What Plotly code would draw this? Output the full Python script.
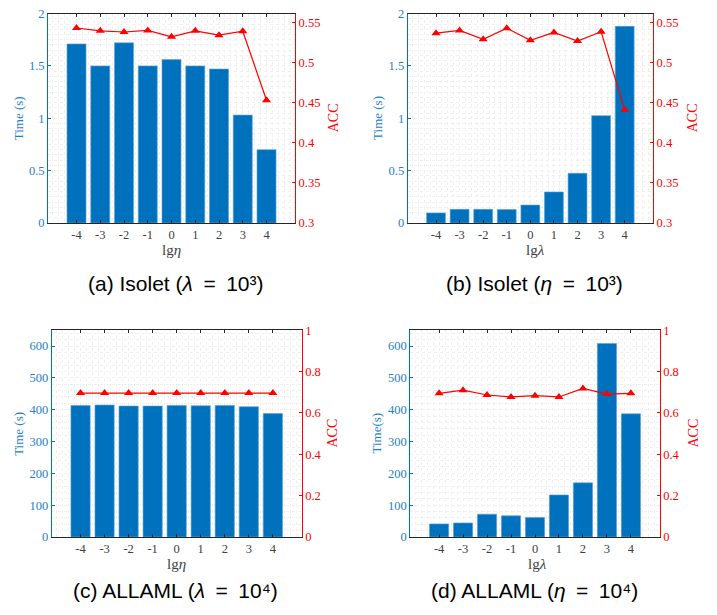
import plotly.graph_objects as go

W, H = 717, 615

categories = [-4, -3, -2, -1, 0, 1, 2, 3, 4]
tick_labels = ["-4", "-3", "-2", "-1", "0", "1", "2", "3", "4"]

time_a = [1.71, 1.50, 1.72, 1.50, 1.56, 1.50, 1.47, 1.03, 0.70]
acc_a = [0.543, 0.5395, 0.538, 0.540, 0.532, 0.5395, 0.534, 0.539, 0.453]

time_b = [0.096, 0.13, 0.13, 0.128, 0.171, 0.296, 0.474, 1.025, 1.878]
acc_b = [0.5366, 0.540, 0.529, 0.5427, 0.5277, 0.5374, 0.5268, 0.5383, 0.441]

time_c = [413.5, 414.5, 411.5, 411.5, 413.5, 412.5, 413.5, 409.4, 388]
acc_c = [0.696, 0.696, 0.696, 0.696, 0.696, 0.696, 0.696, 0.696, 0.696]

time_d = [41, 44, 71.6, 66.5, 61.4, 132, 170, 608, 387]
acc_d = [0.6945, 0.710, 0.6866, 0.677, 0.683, 0.677, 0.718, 0.691, 0.6945]

SP = "\u2002"

panels = [
    dict(time=time_a, acc=acc_a, xpx=(48, 295), ypx=(6.7, 221), yr=[0, 2], ymin=0.05,
         ytv=[0, 0.5, 1, 1.5, 2], ytt=["0", "0.5", "1", "1.5", "2"],
         ar=[0.3, 0.561], atv=[0.3, 0.35, 0.4, 0.45, 0.5, 0.55],
         att=["0.3", "0.35", "0.4", "0.45", "0.5", "0.55"],
         xt="lg<i>η</i>", yt="Time (s)",
         cap="(a) Isolet (<i>λ</i>" + SP + "=" + SP + "10³)", capx=175.5, capy=283,
         xtx=171, xty=249, ytx=18, atx=333),
    dict(time=time_b, acc=acc_b, xpx=(407.7, 653), ypx=(6.7, 221), yr=[0, 2], ymin=0.05,
         ytv=[0, 0.5, 1, 1.5, 2], ytt=["0", "0.5", "1", "1.5", "2"],
         ar=[0.3, 0.561], atv=[0.3, 0.35, 0.4, 0.45, 0.5, 0.55],
         att=["0.3", "0.35", "0.4", "0.45", "0.5", "0.55"],
         xt="lg<i>λ</i>", yt="Time (s)",
         cap="(b) Isolet (<i>η</i>" + SP + "=" + SP + "10³)", capx=534, capy=283,
         xtx=535, xty=249, ytx=377.7, atx=692),
    dict(time=time_c, acc=acc_c, xpx=(51.7, 301.7), ypx=(330.7, 542.3), yr=[0, 650], ymin=20,
         ytv=[0, 100, 200, 300, 400, 500, 600], ytt=["0", "100", "200", "300", "400", "500", "600"],
         ar=[0, 1], atv=[0, 0.2, 0.4, 0.6, 0.8, 1],
         att=["0", "0.2", "0.4", "0.6", "0.8", "1"],
         xt="lg<i>η</i>", yt="Time (s)",
         cap="(c) ALLAML (<i>λ</i>" + SP + "=" + SP + "10⁴)", capx=175.5, capy=597,
         xtx=176.7, xty=570, ytx=18.3, atx=333),
    dict(time=time_d, acc=acc_d, xpx=(410.3, 659.7), ypx=(330.7, 542.3), yr=[0, 650], ymin=20,
         ytv=[0, 100, 200, 300, 400, 500, 600], ytt=["0", "100", "200", "300", "400", "500", "600"],
         ar=[0, 1], atv=[0, 0.2, 0.4, 0.6, 0.8, 1],
         att=["0", "0.2", "0.4", "0.6", "0.8", "1"],
         xt="lg<i>λ</i>", yt="Time(s)",
         cap="(d) ALLAML (<i>η</i>" + SP + "=" + SP + "10⁴)", capx=534.5, capy=597,
         xtx=537, xty=570, ytx=377, atx=694),
]

BLUE = "#0072BD"
RED = "#FF0000"
DARK = "#262626"
GRID = "#f0f0f0"
SERIF = "Liberation Serif, Times New Roman, serif"
SANS = "Liberation Sans, Arial, sans-serif"

fig = go.Figure()
layout = dict(width=W, height=H, margin=dict(l=0, r=0, t=0, b=0),
              paper_bgcolor="white", plot_bgcolor="white", showlegend=False)
annotations = []

for i, p in enumerate(panels):
    n = i + 1
    xname = "x" if n == 1 else f"x{n}"
    yl = 2 * n - 1
    yr_ = 2 * n
    ylname = "y" if yl == 1 else f"y{yl}"
    yrname = f"y{yr_}"
    xdom = [p["xpx"][0] / W, p["xpx"][1] / W]
    ydom = [1 - p["ypx"][1] / H, 1 - p["ypx"][0] / H]

    fig.add_trace(go.Bar(x=categories, y=p["time"], xaxis=xname, yaxis=ylname,
                         width=0.8, marker=dict(color=BLUE, line=dict(color="#5a9fd6", width=0.6))))
    fig.add_trace(go.Scatter(x=categories, y=p["acc"], xaxis=xname, yaxis=yrname,
                             mode="lines+markers", line=dict(color=RED, width=1.2),
                             marker=dict(symbol="triangle-up", size=8, color=RED)))

    xkey = "xaxis" if n == 1 else f"xaxis{n}"
    ylkey = "yaxis" if yl == 1 else f"yaxis{yl}"
    yrkey = f"yaxis{yr_}"

    layout[xkey] = dict(domain=xdom, anchor=ylname, range=[-5.2, 5.2],
                        tickvals=categories, ticktext=tick_labels,
                        showline=True, linecolor=DARK, linewidth=1, mirror="ticks",
                        ticks="inside", ticklen=3, tickcolor=DARK,
                        tickfont=dict(family=SERIF, size=12.5, color="#404040"),
                        showgrid=False, zeroline=False,
                        minor=dict(dtick=0.25, tick0=0, showgrid=True, gridcolor=GRID,
                                   griddash="dot", gridwidth=1, ticks=""))
    layout[ylkey] = dict(domain=ydom, anchor=xname, range=p["yr"], side="left",
                         tickvals=p["ytv"], ticktext=p["ytt"],
                         showline=True, linecolor=BLUE, linewidth=1,
                         ticks="inside", ticklen=3, tickcolor=BLUE,
                         tickfont=dict(family=SERIF, size=12.5, color="#1f80c8"),
                         showgrid=False, zeroline=False,
                         minor=dict(dtick=p["ymin"], tick0=0, showgrid=True, gridcolor=GRID,
                                    griddash="dot", gridwidth=1, ticks=""))
    layout[yrkey] = dict(anchor=xname, overlaying=ylname, side="right", range=p["ar"],
                         tickvals=p["atv"], ticktext=p["att"],
                         showline=True, linecolor=RED, linewidth=1,
                         ticks="inside", ticklen=3, tickcolor=RED,
                         tickfont=dict(family=SERIF, size=12.5, color=RED),
                         showgrid=False, zeroline=False)

    ymid = (p["ypx"][0] + p["ypx"][1]) / 2
    annotations.append(dict(text=p["xt"], x=p["xtx"] / W, y=1 - p["xty"] / H, xref="paper", yref="paper",
                            xanchor="center", yanchor="middle", showarrow=False,
                            font=dict(family=SERIF, size=15, color="#404040")))
    annotations.append(dict(text=p["yt"], x=p["ytx"] / W, y=1 - ymid / H, xref="paper", yref="paper",
                            xanchor="center", yanchor="middle", showarrow=False, textangle=-90,
                            font=dict(family=SERIF, size=13, color="#1f80c8")))
    annotations.append(dict(text="ACC", x=p["atx"] / W, y=1 - ymid / H, xref="paper", yref="paper",
                            xanchor="center", yanchor="middle", showarrow=False, textangle=-90,
                            font=dict(family=SERIF, size=14, color=RED)))
    annotations.append(dict(text=p["cap"], x=p["capx"] / W, y=1 - p["capy"] / H, xref="paper", yref="paper",
                            xanchor="center", yanchor="middle", showarrow=False,
                            font=dict(family=SANS, size=21, color="black")))

layout["annotations"] = annotations
fig.update_layout(**layout)
fig.write_html("out.html", config={"displayModeBar": False},
               post_script="document.body.style.margin='0';document.body.style.overflow='hidden';")
